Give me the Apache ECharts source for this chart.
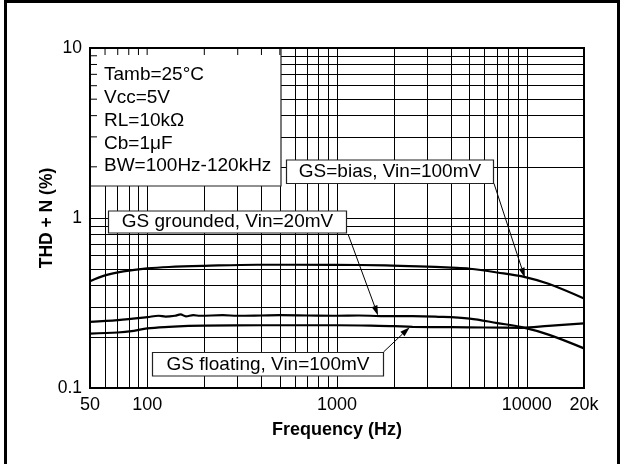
<!DOCTYPE html>
<html><head><meta charset="utf-8">
<script src="https://cdn.jsdelivr.net/npm/echarts@6/dist/echarts.min.js"></script>
<style>html,body{margin:0;padding:0;background:#fff}#c{width:625px;height:464px}</style>
</head><body><div id="c"></div>
<script>
// ---- data ----
const biasFreq = [50, 60, 75, 100, 130, 200, 380, 970, 1800, 2700, 4000, 5000, 7000, 9800, 13000, 20000];
const biasVal  = [0.425, 0.46, 0.485, 0.505, 0.515, 0.523, 0.531, 0.53, 0.527, 0.52, 0.51, 0.503, 0.478, 0.449, 0.41, 0.336];

const groundedFreq = [50, 70, 100, 115, 125, 140, 150, 160, 175, 190, 250, 300, 400, 500, 700, 1000, 1300, 1700, 2500, 3300, 5000, 7000, 9400, 13000, 20000];
const groundedVal  = [0.245, 0.251, 0.261, 0.266, 0.263, 0.266, 0.271, 0.264, 0.268, 0.266, 0.268, 0.266, 0.267, 0.268, 0.267, 0.266, 0.267, 0.265, 0.265, 0.263, 0.256, 0.241, 0.228, 0.206, 0.171];

const floatingFreq = [50, 70, 85, 100, 130, 165, 200, 400, 1000, 1500, 2000, 2500, 4000, 6000, 9400, 13000, 20000];
const floatingVal  = [0.209, 0.212, 0.217, 0.224, 0.229, 0.232, 0.233, 0.234, 0.234, 0.233, 0.231, 0.229, 0.228, 0.227, 0.226, 0.232, 0.240];

const xGridValues = [60, 70, 80, 90, 100, 200, 300, 400, 500, 600, 700, 800, 900, 1000, 2000, 3000, 4000, 5000, 6000, 7000, 8000, 9000, 10000];
const yGridValues = [0.2, 0.3, 0.4, 0.5, 0.6, 0.7, 0.8, 0.9, 1, 2, 3, 4, 5, 6, 7, 8, 9];

const infoLines = ['Tamb=25°C', 'Vcc=5V', 'RL=10kΩ', 'Cb=1μF', 'BW=100Hz-120kHz'];
const labelBias = 'GS=bias, Vin=100mV';
const labelGrounded = 'GS grounded, Vin=20mV';
const labelFloating = 'GS floating, Vin=100mV';
// arrow tips in data coordinates [Hz, %]
const tipBias = [9760, 0.445];
const tipGrounded = [1645, 0.267];
const tipFloating = [2416, 0.228];

const xName = 'Frequency (Hz)';
const yName = 'THD + N (%)';

// ---- chart ----
const FONT = '"Liberation Sans", Arial, Helvetica, sans-serif';
const chart = echarts.init(document.getElementById('c'));
const pairs = (xs, ys) => xs.map((x, i) => [x, ys[i]]);
const curve = (name, xs, ys) => ({
  name, type: 'line', data: pairs(xs, ys), showSymbol: false, symbol: 'none',
  smooth: 0.35, z: 5, silent: true,
  lineStyle: { color: '#000', width: 2.2 }
});

const gridMarks = [].concat(
  xGridValues.map(v => ({ xAxis: v })),
  yGridValues.map(v => ({ yAxis: v }))
);

chart.setOption({
  animation: false,
  grid: { left: 90, right: 41, top: 48, bottom: 76, show: true, borderColor: '#000', borderWidth: 2 },
  xAxis: {
    type: 'log', logBase: 10, min: 50, max: 20000,
    splitLine: { show: false }, minorSplitLine: { show: false },
    axisTick: { show: false },
    axisLine: { show: true, lineStyle: { color: '#000', width: 2 } },
    axisLabel: { color: '#000', fontSize: 18, fontFamily: FONT, margin: 8,
      formatter: v => { const r = Math.round(v); return r === 20000 ? '20k' : String(r); } },
    name: xName, nameLocation: 'middle', nameGap: 33, nameMoveOverlap: false,
    nameTextStyle: { color: '#000', fontSize: 18, fontWeight: 'bold', fontFamily: FONT }
  },
  yAxis: {
    type: 'log', logBase: 10, min: 0.1, max: 10,
    splitLine: { show: false },
    axisTick: { show: false },
    axisLine: { show: true, lineStyle: { color: '#000', width: 2 } },
    axisLabel: { color: '#000', fontSize: 17.5, fontFamily: FONT, margin: 8,
      formatter: v => v < 0.5 ? '0.1' : String(Math.round(v)) },
    name: yName, nameLocation: 'middle', nameGap: 34, nameMoveOverlap: false,
    nameTextStyle: { color: '#000', fontSize: 17.5, fontWeight: 'bold', fontFamily: FONT }
  },
  series: [
    { name: 'grid', type: 'line', data: [[50, 1]], symbol: 'none', showSymbol: false, z: 1, silent: true,
      lineStyle: { width: 0 },
      markLine: { silent: true, symbol: ['none', 'none'], label: { show: false }, animation: false,
        lineStyle: { color: '#000', width: 1, type: 'solid' }, emphasis: { disabled: true },
        data: gridMarks } },
    curve('GS=bias', biasFreq, biasVal),
    curve('GS grounded', groundedFreq, groundedVal),
    curve('GS floating', floatingFreq, floatingVal)
  ]
});

// ---- annotations ----
const px = d => chart.convertToPixel({ seriesIndex: 1 }, d);
const tl = px([50, 10]), br = px([20000, 0.1]);
const g = [];
const Z = 100;
const boxStyle = { fill: '#fff', stroke: '#222', lineWidth: 1.2 };
function box(x1, y1, x2, y2) {
  g.push({ type: 'rect', z: Z, shape: { x: x1, y: y1, width: x2 - x1, height: y2 - y1 }, style: boxStyle });
}
function text(t, x, y, align) {
  g.push({ type: 'text', z: Z + 1, style: { text: t, x, y, fill: '#000', fontSize: 19, fontFamily: FONT,
    align: align || 'center', verticalAlign: 'middle' } });
}
function arrow(sx, sy, tip) {
  const [tx, ty] = px(tip);
  let dx = tx - sx, dy = ty - sy; const len = Math.hypot(dx, dy); dx /= len; dy /= len;
  const L = 10, W = 3;
  const bx = tx - dx * L, by = ty - dy * L;
  g.push({ type: 'line', z: Z + 2, shape: { x1: sx, y1: sy, x2: bx, y2: by }, style: { stroke: '#000', lineWidth: 1 } });
  g.push({ type: 'polygon', z: Z + 2, shape: { points: [[tx, ty], [bx - dy * W, by + dx * W], [bx + dy * W, by - dx * W]] },
    style: { fill: '#000' } });
}

// info box
box(tl[0], tl[1], 281, 186);
infoLines.forEach((t, i) => text(t, 104, 75 + i * 22.8, 'left'));
// inner ticks on info box edges
yGridValues.forEach(v => { const y = px([50, v])[1]; if (y > tl[1] + 2 && y < 186) g.push({ type: 'line', z: Z + 1, shape: { x1: tl[0], y1: y, x2: tl[0] + 7, y2: y }, style: { stroke: '#000', lineWidth: 1 } }); });
xGridValues.forEach(v => { const x = px([v, 10])[0]; if (x > tl[0] + 2 && x < 281) g.push({ type: 'line', z: Z + 1, shape: { x1: x, y1: tl[1], x2: x, y2: tl[1] + 7 }, style: { stroke: '#000', lineWidth: 1 } }); });

// label boxes
box(286.5, 160, 493.5, 183.5); text(labelBias, 390, 172);
arrow(494, 183.5, tipBias);
box(108.5, 211, 346.5, 233); text(labelGrounded, 227.5, 222);
arrow(348, 234, tipGrounded);
box(152.5, 352.5, 383.5, 376); text(labelFloating, 268, 364.5);
arrow(383.5, 352, tipFloating);

// plot frame on top
g.push({ type: 'rect', z: Z + 3, shape: { x: tl[0], y: tl[1], width: br[0] - tl[0], height: br[1] - tl[1] },
  style: { fill: 'none', stroke: '#000', lineWidth: 2 } });
// outer frame
g.push({ type: 'rect', z: Z + 3, shape: { x: 5.5, y: 1.5, width: 613, height: 500 },
  style: { fill: 'none', stroke: '#000', lineWidth: 3 } });

chart.setOption({ graphic: g });
</script>
</body></html>
